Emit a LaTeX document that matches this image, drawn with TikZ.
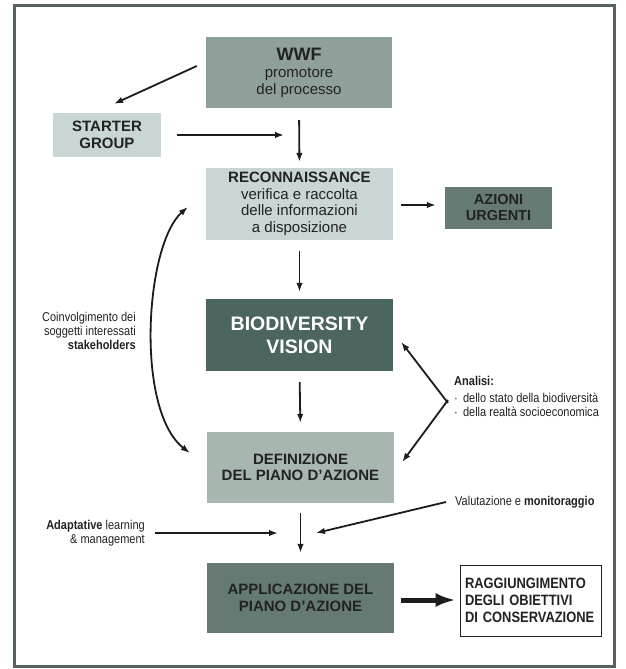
\documentclass[tikz,border=0pt]{standalone}
\usepackage{fontspec}
\setmainfont{Liberation Sans}
\newfontfamily\narrowf{Liberation Sans}[FakeStretch=0.86]
\usetikzlibrary{arrows.meta,calc}
\definecolor{cwwf}{HTML}{8FA09A}
\definecolor{clight}{HTML}{CAD6D5}
\definecolor{cdark}{HTML}{667A74}
\definecolor{cbio}{HTML}{4D6560}
\definecolor{cdef}{HTML}{A8B6B0}
\definecolor{cframe}{HTML}{56635F}
\definecolor{ctext}{HTML}{222222}
\definecolor{carrow}{HTML}{1C1C1C}
\tikzset{
  box/.style={rectangle, draw=none, align=center, inner sep=0pt, text=ctext,
    font=\fontsize{15}{16.5}\selectfont},
  btitle/.style={box, font=\fontsize{15}{16.5}\selectfont\bfseries},
  small/.style={inner sep=0pt, text=ctext, font=\narrowf\fontsize{12.8}{14}\selectfont},
  arr/.style={draw=carrow, line width=1.8pt, -{Latex[length=9pt,width=6.5pt]}},
  darr/.style={draw=carrow, line width=1.8pt, {Latex[length=9pt,width=6.5pt]}-{Latex[length=9pt,width=6.5pt]}},
  bigarr/.style={draw=carrow, line width=5pt, -{Latex[length=20pt,width=14pt]}}
}
\begin{document}
\begin{tikzpicture}[x=1pt,y=-1pt]
\useasboundingbox (0,0) rectangle (626,669);
\fill[white] (0,0) rectangle (626,669);
\draw[cframe, line width=3pt] (14,6) rectangle (614,666);

% boxes
\node[box, fill=cwwf, minimum width=186pt, minimum height=71pt] (wwf) at (299,72.5)
  {{\fontsize{18}{20}\selectfont\bfseries WWF}\\[1pt]promotore\\del processo};
\node[btitle, fill=clight, minimum width=108pt, minimum height=44pt] (starter) at (107,135)
  {STARTER\\GROUP};
\node[box, fill=clight, minimum width=187pt, minimum height=72pt] (recon) at (299.5,204)
  {\textbf{RECONNAISSANCE}\\verifica e raccolta\\delle informazioni\\a disposizione};
\node[btitle, fill=cdark, minimum width=107pt, minimum height=42pt,
  font=\fontsize{14.5}{16}\selectfont\bfseries] (azioni) at (498.5,208)
  {AZIONI\\URGENTI};
\node[btitle, fill=cbio, text=white, minimum width=187pt, minimum height=72pt,
  font=\fontsize{19.5}{23}\selectfont\bfseries] (bio) at (299.5,335)
  {BIODIVERSITY\\VISION};
\node[btitle, fill=cdef, minimum width=187pt, minimum height=71pt] (def) at (300.5,467.5)
  {DEFINIZIONE\\DEL PIANO D’AZIONE};
\node[btitle, fill=cdark, minimum width=187pt, minimum height=70pt,
  font=\fontsize{15}{17}\selectfont\bfseries] (appl) at (300.5,598)
  {APPLICAZIONE DEL\\PIANO D’AZIONE};
\node[box, draw=ctext, line width=0.8pt, fill=white, minimum width=141pt, minimum height=71pt,
  align=left, text width=131pt, font=\narrowf\fontsize{15}{16.7}\selectfont\bfseries] (ragg) at (530.5,600.5)
  {RAGGIUNGIMENTO\\DEGLI OBIETTIVI\\DI CONSERVAZIONE};

% side texts
\node[small, align=right, anchor=east] (coinv) at (136,331)
  {Coinvolgimento dei\\soggetti interessati\\\textbf{stakeholders}};
\node[small, align=right, anchor=east] (adapt) at (145,533)
  {\textbf{Adaptative} learning\\\& management};
\node[small, anchor=west] (valut) at (455,502)
  {Valutazione e \textbf{monitoraggio}};
\node[small, align=left, anchor=north west] (anal) at (454,376)
  {\textbf{Analisi:}\\[3pt]· \,dello stato della biodiversità\\· \,della realtà socioeconomica};

% helper coordinates
\coordinate (join1) at (299,135);
\coordinate (join2) at (299,533);
\coordinate (anfork) at (448,403);

% connectors
\draw[arr] ([shift={(-9,-6.5)}]wwf.west) -- ([shift={(7,-9)}]starter.north);
\draw[arr] ([xshift=16]starter.east) -- ([xshift=-15]join1);
\draw[arr, shorten <=12pt, shorten >=6pt] (wwf.south) -- (recon.north);
\draw[arr] ([shift={(8,1)}]recon.east) -- ([shift={(-9,-3)}]azioni.west);
\draw[arr, shorten <=11pt, shorten >=7pt] (recon.south) -- (bio.north);
\draw[arr, shorten <=11pt, shorten >=9pt] (bio.south) -- (def.north);
\draw[arr, shorten <=10pt, shorten >=10pt] (def.south) -- (appl.north);
\draw[bigarr] ([shift={(7,2)}]appl.east) -- ([shift={(-4,-0.5)}]ragg.west);
\draw[arr] ([xshift=10]adapt.east) -- ([xshift=-21]join2);
\draw[arr] ([xshift=-9]valut.west) -- ([xshift=17]join2);
\draw[arr] (anfork) -- ([shift={(8,7)}]bio.east);
\draw[arr] ([yshift=3]anfork) -- ([shift={(8,-5.5)}]def.east);
\draw[darr] ([shift={(-18,3)}]recon.west) .. controls (145,245) and (135,410) .. ([shift={(-17,-14.5)}]def.west);
\end{tikzpicture}
\end{document}
